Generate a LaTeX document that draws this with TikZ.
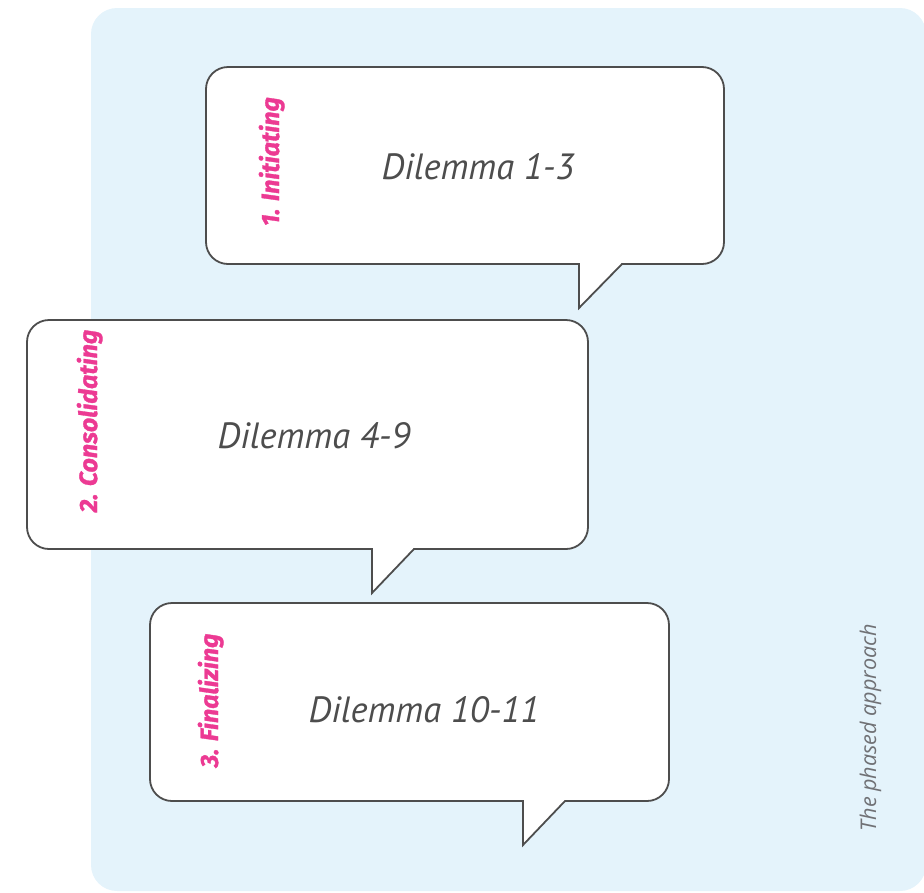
\documentclass[tikz,border=0pt]{standalone}
\usepackage{fontspec}
\setmainfont{PT Sans}
\newfontfamily\notefont{Open Sans}
\newfontfamily\labelfont{Fira Sans}[BoldItalicFeatures={FakeBold=1.3}]
\definecolor{panelblue}{HTML}{E4F3FB}
\definecolor{inkgray}{HTML}{4D4D4D}
\definecolor{phasepink}{HTML}{EC3A93}
\definecolor{notegray}{HTML}{707175}
\begin{document}
\begin{tikzpicture}[x=1pt,y=-1pt,
  bubble/.style={draw=inkgray, line width=1.8pt, fill=white, rounded corners=22pt,
    inner sep=0pt, outer sep=0pt},
  tailline/.style={draw=inkgray, line width=1.8pt, line join=miter},
  dilemma/.style={text=inkgray, font=\itshape\fontsize{36.5}{36.5}\selectfont, anchor=base},
  phase/.style={text=phasepink, font=\labelfont\bfseries\itshape\fontsize{25}{25}\selectfont,
    rotate=90, anchor=base},
  note/.style={text=notegray, font=\notefont\itshape\fontsize{21.6}{21.6}\selectfont,
    rotate=90, anchor=base}]
\useasboundingbox (0,0) rectangle (924,892);

% light blue panel behind the bubbles
\fill[panelblue, rounded corners=26pt] (91,8) rectangle (926,891);

% bubble 1
\node[bubble, minimum width=518pt, minimum height=197pt] (b1) at (465,165.5) {};
\coordinate (t1l) at (579,264);
\coordinate (t1tip) at (579,308);
\coordinate (t1r) at (622,264);
\fill[white] (579,261.5) -- (t1tip) -- (t1r) -- (622,261.5) -- cycle;
\draw[tailline] (574,264) -- (t1l) -- (t1tip) -- (t1r) -- (627,264);

% bubble 2
\node[bubble, minimum width=561pt, minimum height=229pt] (b2) at (307.5,434.5) {};
\coordinate (t2l) at (372,549);
\coordinate (t2tip) at (372,593);
\coordinate (t2r) at (414,549);
\fill[white] (372,546.5) -- (t2tip) -- (t2r) -- (414,546.5) -- cycle;
\draw[tailline] (367,549) -- (t2l) -- (t2tip) -- (t2r) -- (419,549);

% bubble 3
\node[bubble, minimum width=519pt, minimum height=198pt] (b3) at (409.5,702) {};
\coordinate (t3l) at (523,801);
\coordinate (t3tip) at (523,845);
\coordinate (t3r) at (565,801);
\fill[white] (523,798.5) -- (t3tip) -- (t3r) -- (565,798.5) -- cycle;
\draw[tailline] (518,801) -- (t3l) -- (t3tip) -- (t3r) -- (570,801);

% texts
\node[dilemma] (d1) at (478,179) {Dilemma 1-3};
\node[dilemma] (d2) at (314,448) {Dilemma 4-9};
\node[dilemma] (d3) at (424,722) {Dilemma 10-11};

\node[phase] (p1) at (279,161.5) {1. Initiating};
\node[phase] (p2) at (97,421) {2. Consolidating};
\node[phase] (p3) at (218,700.5) {3. Finalizing};

\node[note] (n1) at (876,727.5) {The phased approach};
\end{tikzpicture}
\end{document}
